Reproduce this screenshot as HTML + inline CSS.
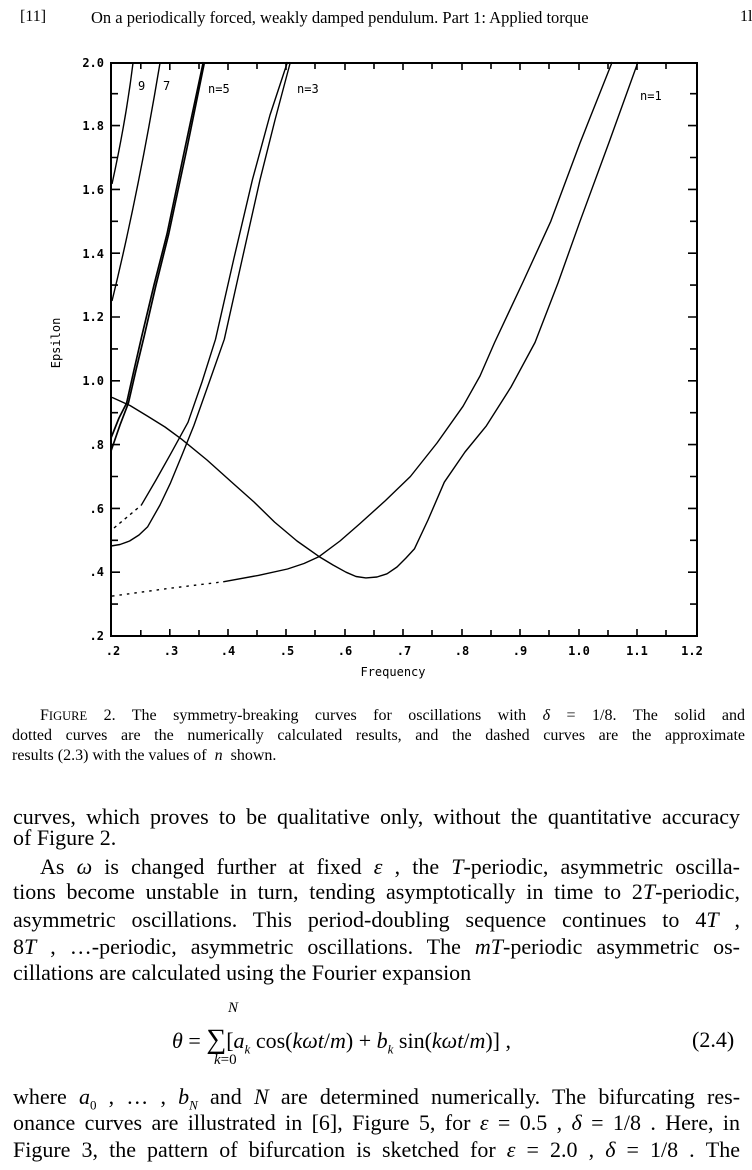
<!DOCTYPE html>
<html><head><meta charset="utf-8"><style>
body{margin:0;background:#fff;}
#p{position:relative;width:752px;height:1170px;overflow:hidden;background:#fff;font-family:"Liberation Serif",serif;color:#000;}
.l{position:absolute;white-space:nowrap;}
.j{text-align:justify;text-align-last:justify;white-space:normal;}
.b{font-size:22px;line-height:26px;}
.c{font-size:16px;line-height:18px;}
i{font-style:italic;}
svg text{font-family:"DejaVu Sans Mono","Liberation Mono",monospace;font-size:12px;font-weight:bold;}
</style></head><body><div id="p">
<div class="l" style="left:20px;top:8px;font-size:16px;">[11]</div>
<div class="l" style="left:91px;top:8px;font-size:16.5px;">On a periodically forced, weakly damped pendulum. Part 1: Applied torque</div>
<div class="l" style="left:740px;top:8px;font-size:16px;">1l</div>

<svg style="position:absolute;left:0;top:0" width="752" height="700" viewBox="0 0 752 700">
<g fill="none" stroke="#000">
<rect x="111" y="63" width="586" height="573" stroke-width="2"/>
<g stroke-width="1.6">
<path d="M140.8 636v-6M169.8 636v-7M199 636v-6M228 636v-7M257 636v-6M286 636v-7M315 636v-6M345 636v-7M374 636v-6M403 636v-7M432 636v-6M462 636v-7M491 636v-6M520 636v-7M549 636v-6M579 636v-7M608 636v-6M637 636v-7M666 636v-6"/>
<path d="M140.8 63v6M169.8 63v7M199 63v6M228 63v7M257 63v6M286 63v7M315 63v6M345 63v7M374 63v6M403 63v7M432 63v6M462 63v7M491 63v6M520 63v7M549 63v6M579 63v7M608 63v6M637 63v7M666 63v6"/>
<path d="M111 604.1h7M111 572.2h9M111 540.3h7M111 508.4h9M111 476.5h7M111 444.6h9M111 412.7h7M111 380.8h9M111 348.9h7M111 317h9M111 285.1h7M111 253.2h9M111 221.3h7M111 189.4h9M111 157.5h7M111 125.6h9M111 93.7h7"/>
<path d="M697 604.1h-7M697 572.2h-9M697 540.3h-7M697 508.4h-9M697 476.5h-7M697 444.6h-9M697 412.7h-7M697 380.8h-9M697 348.9h-7M697 317h-9M697 285.1h-7M697 253.2h-9M697 221.3h-7M697 189.4h-9M697 157.5h-7M697 125.6h-9M697 93.7h-7"/>
</g>
<g stroke-width="1.4" stroke-linejoin="round">
<polyline points="112,397.4 130,405.5 147.1,415.9 165,427 181.6,439.2 207,460 232.5,482.9 254,502 274.6,522.1 297,541 319.1,556.6 333,565 346,572.2 356,576.5 365.9,577.9 377,577 387,573.8 397,567 406,558 414.4,548.9 428,520 444.3,482.2 465,452 486.4,425.8 511,387 535,342.5 558,283 580,221.3 609.3,141.6 638,62"/>
<path d="M112 596.1 L170.5 588.2 L223.2 581.8" stroke-dasharray="2.5 5"/>
<polyline points="223.2,581.8 258.3,575.4 287.5,569 304,563.5 319.1,556.6 340,541 359.5,524 385,501 410.4,476.5 437,443 463,406.3 480,376 494.6,342.5 523,282 550.8,221.3 580,143 612.2,62"/>
<polyline points="111,546 120,544.5 129.6,541 139,535 147.7,526.7 160,505 170.5,482.9 182,455 193.9,425.5 210,380 224.3,339.3 242,260 260,179.8 275,120 290.4,62"/>
<path d="M114 528 L141.3 505.2" stroke-dasharray="3 4"/>
<polyline points="141.3,505.2 156,480 170.5,454.2 188,422.3 202,382 215.5,339.3 234,258 252.4,179.8 270,115 287.5,62"/>
<polyline stroke-width="1.7" points="111,438 119,418 126.6,403.1 134,370 141.8,336.1 154,285 167,234 185,148 203.3,62"/>
<polyline stroke-width="1.7" points="111,451 120,425 128.4,403.1 136,370 144.2,336.1 156,285 168.7,234 187,148 204.5,62"/>
<path d="M112 301 Q138 195 160 63"/>
<path d="M112 184 Q126 120 133 63"/>
</g>
</g>
<g text-anchor="end">
<text x="104" y="67">2.0</text><text x="104" y="130">1.8</text><text x="104" y="194">1.6</text><text x="104" y="258">1.4</text><text x="104" y="321">1.2</text><text x="104" y="385">1.0</text><text x="104" y="449">.8</text><text x="104" y="513">.6</text><text x="104" y="576">.4</text><text x="104" y="640">.2</text>
</g>
<g text-anchor="middle">
<text x="113" y="655">.2</text><text x="171" y="655">.3</text><text x="228" y="655">.4</text><text x="287" y="655">.5</text><text x="345" y="655">.6</text><text x="404" y="655">.7</text><text x="462" y="655">.8</text><text x="520" y="655">.9</text><text x="579" y="655">1.0</text><text x="637" y="655">1.1</text><text x="692" y="655">1.2</text>
<text x="393" y="676" style="font-weight:normal;font-size:12px">Frequency</text>
<text transform="translate(60,343) rotate(-90)" style="font-weight:normal;font-size:12px">Epsilon</text>
</g>
<text x="138" y="90" style="font-weight:normal">9</text>
<text x="163" y="90" style="font-weight:normal">7</text>
<text x="208" y="93" style="font-weight:normal">n=5</text>
<text x="297" y="93" style="font-weight:normal">n=3</text>
<text x="640" y="100" style="font-weight:normal">n=1</text>
</svg>

<div class="l c j" style="left:40px;top:707px;width:705px;">F<span style="font-size:12.5px">IGURE</span> 2. The symmetry-breaking curves for oscillations with <i>δ</i> = 1/8. The solid and</div>
<div class="l c j" style="left:12px;top:727px;width:733px;">dotted curves are the numerically calculated results, and the dashed curves are the approximate</div>
<div class="l c" style="left:12px;top:747px;">results (2.3) with the values of&nbsp; <i>n</i>&nbsp; shown.</div>

<div class="l b j" style="left:13px;top:804px;width:727px;">curves, which proves to be qualitative only, without the quantitative accuracy</div>
<div class="l b" style="left:13px;top:825px;">of Figure 2.</div>
<div class="l b j" style="left:40px;top:854px;width:700px;">As <i>ω</i> is changed further at fixed <i>ε</i> , the <i>T</i>-periodic, asymmetric oscilla-</div>
<div class="l b j" style="left:13px;top:879px;width:727px;">tions become unstable in turn, tending asymptotically in time to 2<i>T</i>-periodic,</div>
<div class="l b j" style="left:13px;top:907px;width:727px;">asymmetric oscillations. This period-doubling sequence continues to 4<i>T</i> ,</div>
<div class="l b j" style="left:13px;top:934px;width:727px;">8<i>T</i> , …-periodic, asymmetric oscillations. The <i>mT</i>-periodic asymmetric os-</div>
<div class="l b" style="left:13px;top:960px;">cillations are calculated using the Fourier expansion</div>
<div class="l" style="left:228px;top:1000px;font-size:15px;"><i>N</i></div>
<div class="l b" style="left:172px;top:1027px;"><i>θ</i> = <span style="font-size:28px">∑</span>[<i>a<sub style="font-size:13px">k</sub></i> cos(<i>kωt</i>/<i>m</i>) + <i>b<sub style="font-size:13px">k</sub></i> sin(<i>kωt</i>/<i>m</i>)] ,</div>
<div class="l b" style="left:692px;top:1027px;">(2.4)</div>
<div class="l" style="left:214px;top:1052px;font-size:15px;"><i>k</i>=0</div>
<div class="l b j" style="left:13px;top:1084px;width:727px;">where <i>a</i><sub style="font-size:13px">0</sub> , … , <i>b<sub style="font-size:13px">N</sub></i> and <i>N</i> are determined numerically. The bifurcating res-</div>
<div class="l b j" style="left:13px;top:1110px;width:727px;">onance curves are illustrated in [6], Figure 5, for <i>ε</i> = 0.5 , <i>δ</i> = 1/8 . Here, in</div>
<div class="l b j" style="left:13px;top:1137px;width:727px;">Figure 3, the pattern of bifurcation is sketched for <i>ε</i> = 2.0 , <i>δ</i> = 1/8 . The</div>
</div></body></html>
